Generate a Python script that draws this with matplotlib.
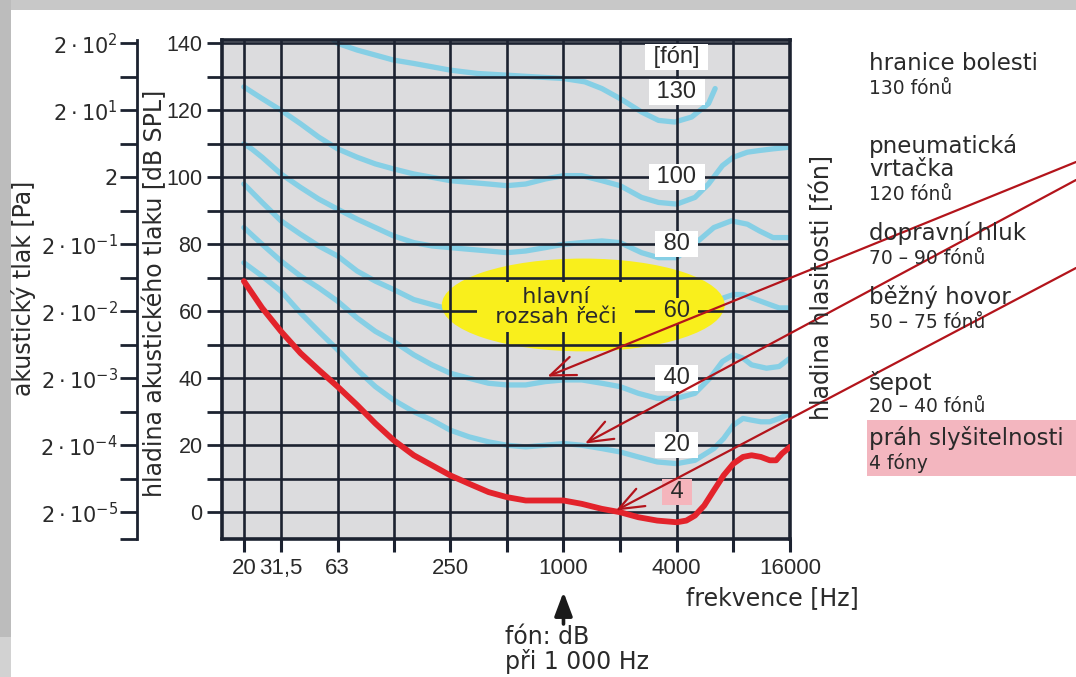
import matplotlib
matplotlib.use("Agg")
import matplotlib.pyplot as plt
from matplotlib.patches import Ellipse, Rectangle
from matplotlib.ticker import NullLocator

plt.rcParams['font.family'] = ['DejaVu Sans']
plt.rcParams['mathtext.fontset'] = 'dejavusans'

# ---------------- data ----------------
freq_ticks = [20, 31.5, 63, 125, 250, 500, 1000, 2000, 4000, 8000, 16000]
freq_tick_labels = ["20", "31,5", "63", "", "250", "", "1000", "", "4000", "", "16000"]

spl_ticks = [0, 20, 40, 60, 80, 100, 120, 140]
spl_minor = [10, 30, 50, 70, 90, 110, 130]
pressure_labels = [r"$2\cdot10^{-5}$", r"$2\cdot10^{-4}$", r"$2\cdot10^{-3}$",
                   r"$2\cdot10^{-2}$", r"$2\cdot10^{-1}$", "2",
                   r"$2\cdot10^{1}$", r"$2\cdot10^{2}$"]

# threshold of hearing (red, 4 phon)
thr_f = [20, 25, 31.5, 40, 50, 63, 80, 100, 125, 160, 200, 250, 315, 400, 500,
         630, 800, 1000, 1250, 1600, 2000, 2500, 3150, 4000, 4500, 5000, 5600,
         6300, 7100, 8000, 9000, 10000, 11200, 12500, 13500, 14500, 16000]
thr_db = [69, 61, 54, 47.5, 42.5, 37.5, 32, 26.5, 21.5, 17, 14, 11, 8.5, 6, 4.5,
          3.5, 3.5, 3.5, 2.5, 1, 0, -1.5, -2.5, -3, -2.5, -1, 2,
          6.5, 11, 14.5, 16.5, 17, 16.5, 15.5, 15.5, 17.5, 19.5]

p20_f = [20, 25, 31.5, 40, 50, 63, 80, 100, 125, 160, 200, 250, 315, 400, 500,
         630, 800, 1000, 1250, 1600, 2000, 2500, 3150, 4000, 5000, 6300, 7100,
         8000, 9000, 10000, 11200, 12500, 14000, 16000]
p20_db = [74.5, 70.5, 66, 59.5, 54, 48.5, 42.5, 37.5, 33.5, 30, 27.5, 24.5, 22.5, 21, 20,
          19.5, 20, 20.5, 20, 19, 18, 16.5, 15, 14.5, 15.5, 19, 22,
          26, 28, 27.5, 27, 27, 28, 29.5]

p40_f = [20, 25, 31.5, 40, 50, 63, 80, 100, 125, 160, 200, 250, 315, 400, 500,
         630, 800, 1000, 1250, 1600, 2000, 2500, 3150, 4000, 5000, 6000, 7000,
         8000, 9000, 10000, 12000, 14000, 16000]
p40_db = [85, 80, 75, 70.5, 67, 63, 58, 54, 51, 47, 44, 41.5, 40, 38.5, 38,
          38, 39, 39.5, 39.5, 38.5, 37.5, 35.5, 34, 34, 35.5, 40, 45,
          47, 46, 44, 43, 43.5, 46]

p60_f = [20, 25, 31.5, 40, 50, 63, 80, 100, 125, 160, 200, 250, 400, 630, 1000,
         1600, 2500, 4000, 5500, 6300, 7100, 8000, 9000, 10000, 12500, 14000, 16000]
p60_db = [98, 92.5, 87, 83, 79.5, 76.5, 72, 69, 66.5, 63.5, 62, 60.5, 59.5, 59.5, 60,
          59, 57, 56, 58, 62, 64, 65, 65, 64, 62, 61, 61]

p80_f = [20, 22, 25, 31.5, 40, 50, 63, 80, 100, 125, 160, 200, 250, 315, 400, 500,
         630, 800, 1000, 1250, 1600, 2000, 2600, 3200, 4000, 5200, 6300, 7800,
         9500, 11000, 13000, 16000]
p80_db = [110, 108.5, 106, 101, 97, 93.5, 90.5, 87.5, 85, 82.5, 80.5, 79.5, 79, 78.5, 78, 77.5,
          78, 79, 80, 80.5, 81, 80.5, 77.5, 76, 76, 81, 85, 87,
          86, 84, 82, 82]

p100_f = [20, 25, 31.5, 40, 50, 63, 80, 100, 125, 160, 200, 250, 315, 400, 500,
          630, 800, 1000, 1250, 1600, 2000, 2600, 3200, 4000, 5000, 5900, 7000,
          8000, 9500, 11000, 13000, 16000]
p100_db = [127, 123.5, 120, 116, 112, 108.5, 106, 104, 102.5, 101, 100, 99, 98.5, 98, 97.5,
           98, 99.5, 100.5, 100.5, 99, 97.5, 94, 92.5, 92, 94, 98, 103.5,
           106, 107.5, 108, 108.5, 109]

p130_f = [56, 63, 80, 100, 125, 160, 200, 250, 350, 500, 700, 1000, 1300, 1600,
          2000, 2600, 3200, 3900, 4800, 5900, 6400]
p130_db = [142.5, 140, 138, 136.5, 135, 134, 133, 132, 131, 130.5, 130, 129.5, 128.5, 126.5,
           123.5, 119.5, 117, 116.5, 118, 122, 126.5]

# contour labels drawn on the 4000 Hz line
label_texts = ["[fón]", "130", "100", "80", "60", "40", "20", "4"]
label_levels = [136, 125.5, 100, 80, 60, 40, 20, 6]

# arrow tips (frequency, level) from the right-hand legend
arrow_tip_f = [820, 1300, 1900]
arrow_tip_db = [40.5, 20.5, 0.5]

# ---------------- figure ----------------
W, H = 1076, 677
fig = plt.figure(figsize=(W / 100, H / 100), dpi=100)
fig.patch.set_facecolor("white")

def fx(px):
    return px / W

def fy(py):
    return 1 - py / H

ax = fig.add_axes([fx(222), fy(539), fx(790) - fx(222), fy(40) - fy(539)])
ax.set_xscale("log")
ax.set_xlim(15.3, 16000)
ax.set_ylim(-8, 141)
ax.set_facecolor("#dcdcde")

grid_c = "#1c2230"
blue = "#86cfe5"
red = "#e3232b"
yellow = "#f9ef1c"
txt_c = "#2a2a2a"

ax.set_xticks(freq_ticks)
ax.set_xticklabels(freq_tick_labels)
ax.xaxis.set_minor_locator(NullLocator())
ax.set_yticks(spl_ticks)
ax.set_yticks(spl_minor, minor=True)
ax.tick_params(axis="x", which="major", direction="out", length=9, width=2.2,
               pad=5, labelsize=16, colors=grid_c, labelcolor=txt_c)
ax.tick_params(axis="y", which="both", direction="out", length=11, width=2,
               pad=3, labelsize=15.5, colors=grid_c, labelcolor=txt_c)
for lbl in ax.get_xticklabels() + ax.get_yticklabels():
    lbl.set_family("Liberation Sans")
ax.grid(True, which="both", color=grid_c, lw=1.9)
ax.set_axisbelow("line")
for s in ax.spines.values():
    s.set_linewidth(2.6)
    s.set_color(grid_c)

# curves
ax.plot(p60_f, p60_db, color=blue, lw=3.8, solid_capstyle="round", zorder=1.1)
ax.add_patch(Ellipse((0.636, 0.469), 0.498, 0.186, transform=ax.transAxes,
                     fc=yellow, ec="none", zorder=1.2))
for f, db in [(p20_f, p20_db), (p40_f, p40_db), (p80_f, p80_db),
              (p100_f, p100_db), (p130_f, p130_db)]:
    ax.plot(f, db, color=blue, lw=3.8, solid_capstyle="round", zorder=1.1)
ax.plot(thr_f, thr_db, color=red, lw=4.2, solid_capstyle="round", zorder=3)

ax.text(0.588, 0.465, "  hlavní  \n  rozsah řeči  ", transform=ax.transAxes,
        ha="center", va="center", fontsize=16, color=txt_c, linespacing=1.05,
        bbox=dict(boxstyle="square,pad=0.2", fc=yellow, ec="none"), zorder=4)

for s, lv in zip(label_texts, label_levels):
    fc = "white"
    if s == "60":
        fc = yellow
    elif s == "4":
        fc = "#f5b5bc"
    ax.text(4000, lv, f" {s} ", ha="center", va="center", fontsize=17,
            family="Liberation Sans", color=txt_c,
            bbox=dict(boxstyle="square,pad=0.08", fc=fc, ec="none"), zorder=4)

# secondary pressure axis
sec = ax.secondary_yaxis(-0.1496)
sec.set_yticks(spl_ticks)
sec.set_yticklabels(pressure_labels)
sec.set_yticks([-8] + spl_minor, minor=True)
sec.tick_params(which="both", direction="out", length=12, width=2, pad=2,
                labelsize=15, colors=grid_c, labelcolor=txt_c)
for s in sec.spines.values():
    s.set_linewidth(2)
    s.set_color(grid_c)

# axis titles
fig.text(fx(24), fy(288), "akustický tlak [Pa]", rotation=90, ha="center",
         va="center", fontsize=17, color=txt_c)
fig.text(fx(155), fy(293), "hladina akustického tlaku [dB SPL]", rotation=90,
         ha="center", va="center", fontsize=17, color=txt_c)
fig.text(fx(822), fy(288), "hladina hlasitosti [fón]", rotation=90,
         ha="center", va="center", fontsize=17, color=txt_c)
fig.text(fx(686), fy(598), "frekvence [Hz]", ha="left", va="center",
         fontsize=17, color=txt_c)
fig.text(fx(505), fy(637), "fón: dB", ha="left", va="center", fontsize=17,
         color=txt_c)
fig.text(fx(505), fy(662), "při 1 000 Hz", ha="left", va="center", fontsize=17,
         color=txt_c)

ax.annotate("", xy=(1000, fy(592)), xycoords=("data", "figure fraction"),
            xytext=(1000, fy(624)), textcoords=("data", "figure fraction"),
            arrowprops=dict(arrowstyle="-|>,head_length=0.8,head_width=0.3",
                            color="#1a1a1a", lw=2.6, mutation_scale=18,
                            shrinkA=0, shrinkB=0),
            annotation_clip=False)

# right-hand legend texts
fig.add_artist(Rectangle((fx(867), fy(476)), 1 - fx(867), fy(420) - fy(476),
                         transform=fig.transFigure, fc="#f3b6bf", ec="none",
                         zorder=0))
side = [("hranice bolesti", 63, 16.5), ("130 fónů", 88, 13.5),
        ("pneumatická", 146, 16.5), ("vrtačka", 170, 16.5), ("120 fónů", 195, 13.5),
        ("dopravní hluk", 233, 16.5), ("70 – 90 fónů", 258, 13.5),
        ("běžný hovor", 297, 16.5), ("50 – 75 fónů", 322, 13.5),
        ("šepot", 383, 16.5), ("20 – 40 fónů", 407, 13.5),
        ("práh slyšitelnosti", 438, 16.5), ("4 fóny", 463, 13.5)]
for s, py, fs in side:
    fig.text(fx(869), fy(py), s, ha="left", va="center", fontsize=fs, color=txt_c)

# red pointer lines from the right edge
for f, db, py in zip(arrow_tip_f, arrow_tip_db, [162, 180, 268]):
    ax.annotate("", xy=(f, db), xycoords="data",
                xytext=(1.0, fy(py)), textcoords="figure fraction",
                arrowprops=dict(arrowstyle="->,head_length=0.9,head_width=0.35",
                                color="#b3141b", lw=1.6, mutation_scale=20,
                                shrinkA=0, shrinkB=0),
                annotation_clip=False, zorder=6)

# slide frame bands
fig.add_artist(Rectangle((0, fy(10)), 1, fy(0) - fy(10), transform=fig.transFigure,
                         fc="#c8c8c8", ec="none"))
fig.add_artist(Rectangle((0, fy(637)), fx(11), fy(0) - fy(637),
                         transform=fig.transFigure, fc="#bcbcbc", ec="none"))
fig.add_artist(Rectangle((0, 0), fx(11), fy(637), transform=fig.transFigure,
                         fc="#d2d2d2", ec="none"))

fig.savefig("out.png", dpi=100)
